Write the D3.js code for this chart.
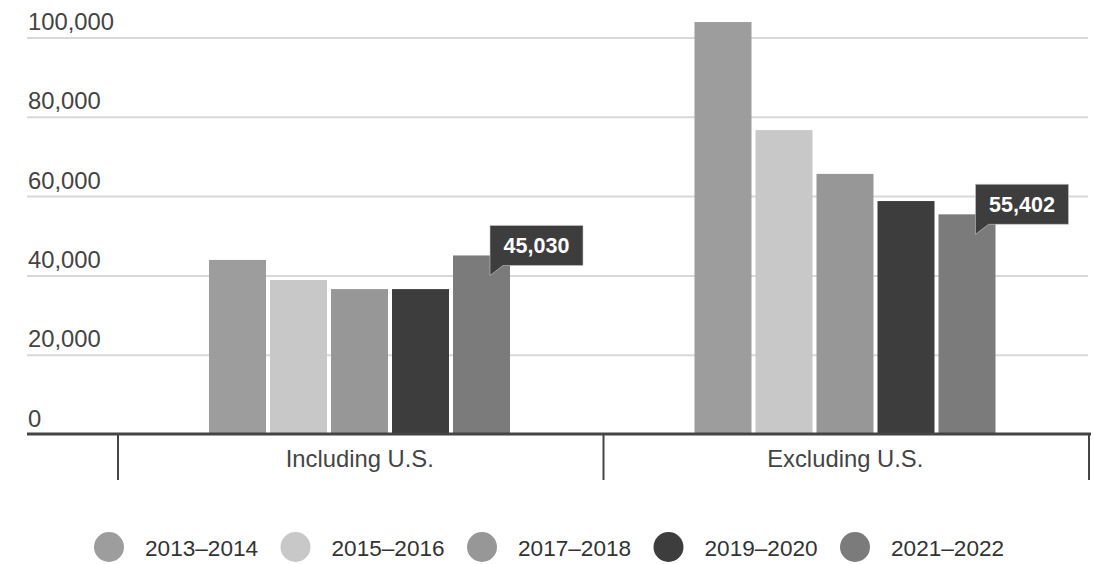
<!DOCTYPE html>
<html>
<head>
<meta charset="utf-8">
<script src="https://cdn.jsdelivr.net/npm/d3@7"></script>
<style>
  html, body { margin: 0; padding: 0; background: #fff; }
  svg { display: block; font-family: "Liberation Sans", Arial, sans-serif; }
</style>
</head>
<body>
<svg id="chart" width="1094" height="564"></svg>
<script>
const categories = ["Including U.S.", "Excluding U.S."];
const seriesNames = ["2013–2014", "2015–2016", "2017–2018", "2019–2020", "2021–2022"];
const seriesColors = ["#9d9d9d", "#c8c8c8", "#979797", "#3d3d3d", "#7b7b7b"];
const includingValues = [43900, 38850, 36550, 36550, 45030];
const excludingValues = [103900, 76650, 65600, 58750, 55402];
const yTicks = [0, 20000, 40000, 60000, 80000, 100000];
const calloutSeries = "2021–2022";

const valuesByCategory = { "Including U.S.": includingValues, "Excluding U.S.": excludingValues };

const svg = d3.select("#chart");

const y = d3.scaleLinear().domain([0, 100000]).range([434, 37.5]);
const x0 = d3.scaleBand().domain(categories).range([118, 1089]).paddingInner(0).paddingOuter(0);
const x1 = d3.scaleBand().domain(seriesNames).range([91, 392]).paddingInner(4 / 61).paddingOuter(0);
const color = d3.scaleOrdinal().domain(seriesNames).range(seriesColors);
const fmt = d3.format(",");

// gridlines + y labels
const yAxis = d3.axisLeft(y).tickValues(yTicks).tickSize(0).tickFormat(fmt);
const gy = svg.append("g").attr("transform", "translate(27,0)").call(yAxis);
gy.select(".domain").remove();
gy.selectAll(".tick line").remove();
gy.selectAll(".tick").filter(d => d !== 0).append("line")
  .attr("x1", 0).attr("x2", 1061).attr("y1", 0).attr("y2", 0)
  .attr("stroke", "#d8d8d8").attr("stroke-width", 2);
gy.selectAll(".tick text")
  .attr("x", 1).attr("dy", -8).attr("text-anchor", "start")
  .attr("font-size", 23.8).attr("fill", "#444")
  .attr("font-family", "Liberation Sans, Arial, sans-serif");

// bars
const groups = svg.append("g").selectAll("g")
  .data(categories).join("g")
  .attr("transform", d => `translate(${x0(d)},0)`);

groups.selectAll("rect")
  .data(c => seriesNames.map((s, i) => ({ cat: c, series: s, value: valuesByCategory[c][i] })))
  .join("rect")
  .attr("x", d => x1(d.series))
  .attr("width", x1.bandwidth())
  .attr("y", d => y(d.value))
  .attr("height", d => y(0) - y(d.value))
  .attr("fill", d => color(d.series));

// x axis baseline + ticks
const xAxis = d3.axisBottom(x0).tickSize(0).tickFormat("");
const gx = svg.append("g").attr("transform", `translate(0,${y(0)})`).call(xAxis);
gx.selectAll("*").remove();
gx.append("line").attr("x1", 27).attr("x2", 1091).attr("y1", 0).attr("y2", 0)
  .attr("stroke", "#444").attr("stroke-width", 3);
const boundaries = [x0.range()[0], ...categories.map(c => x0(c) + x0.bandwidth())];
gx.selectAll("line.tk").data(boundaries).join("line").attr("class", "tk")
  .attr("x1", d => d).attr("x2", d => d).attr("y1", 0).attr("y2", 46)
  .attr("stroke", "#444").attr("stroke-width", 2);
gx.selectAll("text.cat").data(categories).join("text").attr("class", "cat")
  .attr("x", d => x0(d) + x0.bandwidth() / 2 - 1)
  .attr("y", 33)
  .attr("text-anchor", "middle")
  .attr("font-size", 23.8).attr("fill", "#444")
  .text(d => d);

// callouts
const bw = 93, bh = 40;
const callouts = categories.map(c => {
  const i = seriesNames.indexOf(calloutSeries);
  return { cat: c, value: valuesByCategory[c][i], cx: x0(c) + x1(calloutSeries) + x1.bandwidth() / 2 };
});
const cg = svg.append("g").selectAll("g").data(callouts).join("g")
  .attr("transform", d => `translate(${d.cx + 8.5},${y(d.value) + 10 - bh})`);
cg.append("path")
  .attr("d", `M0,0 H${bw} V${bh} H13 L0,${bh + 10} Z`)
  .attr("fill", "#3d3d3d").attr("stroke", "#c8c8c8").attr("stroke-width", 0.6);
cg.append("text")
  .attr("x", bw / 2).attr("y", 28)
  .attr("text-anchor", "middle")
  .attr("font-size", 21.5).attr("font-weight", "bold").attr("fill", "#fff")
  .text(d => fmt(d.value));

// legend
const legend = svg.append("g").selectAll("g").data(seriesNames).join("g")
  .attr("transform", (d, i) => `translate(${109 + i * 186.5},547)`);
legend.append("circle").attr("r", 15).attr("fill", d => color(d));
legend.append("text").attr("x", 36).attr("y", 9)
  .attr("font-size", 22.6).attr("fill", "#333").text(d => d);
</script>
</body>
</html>
